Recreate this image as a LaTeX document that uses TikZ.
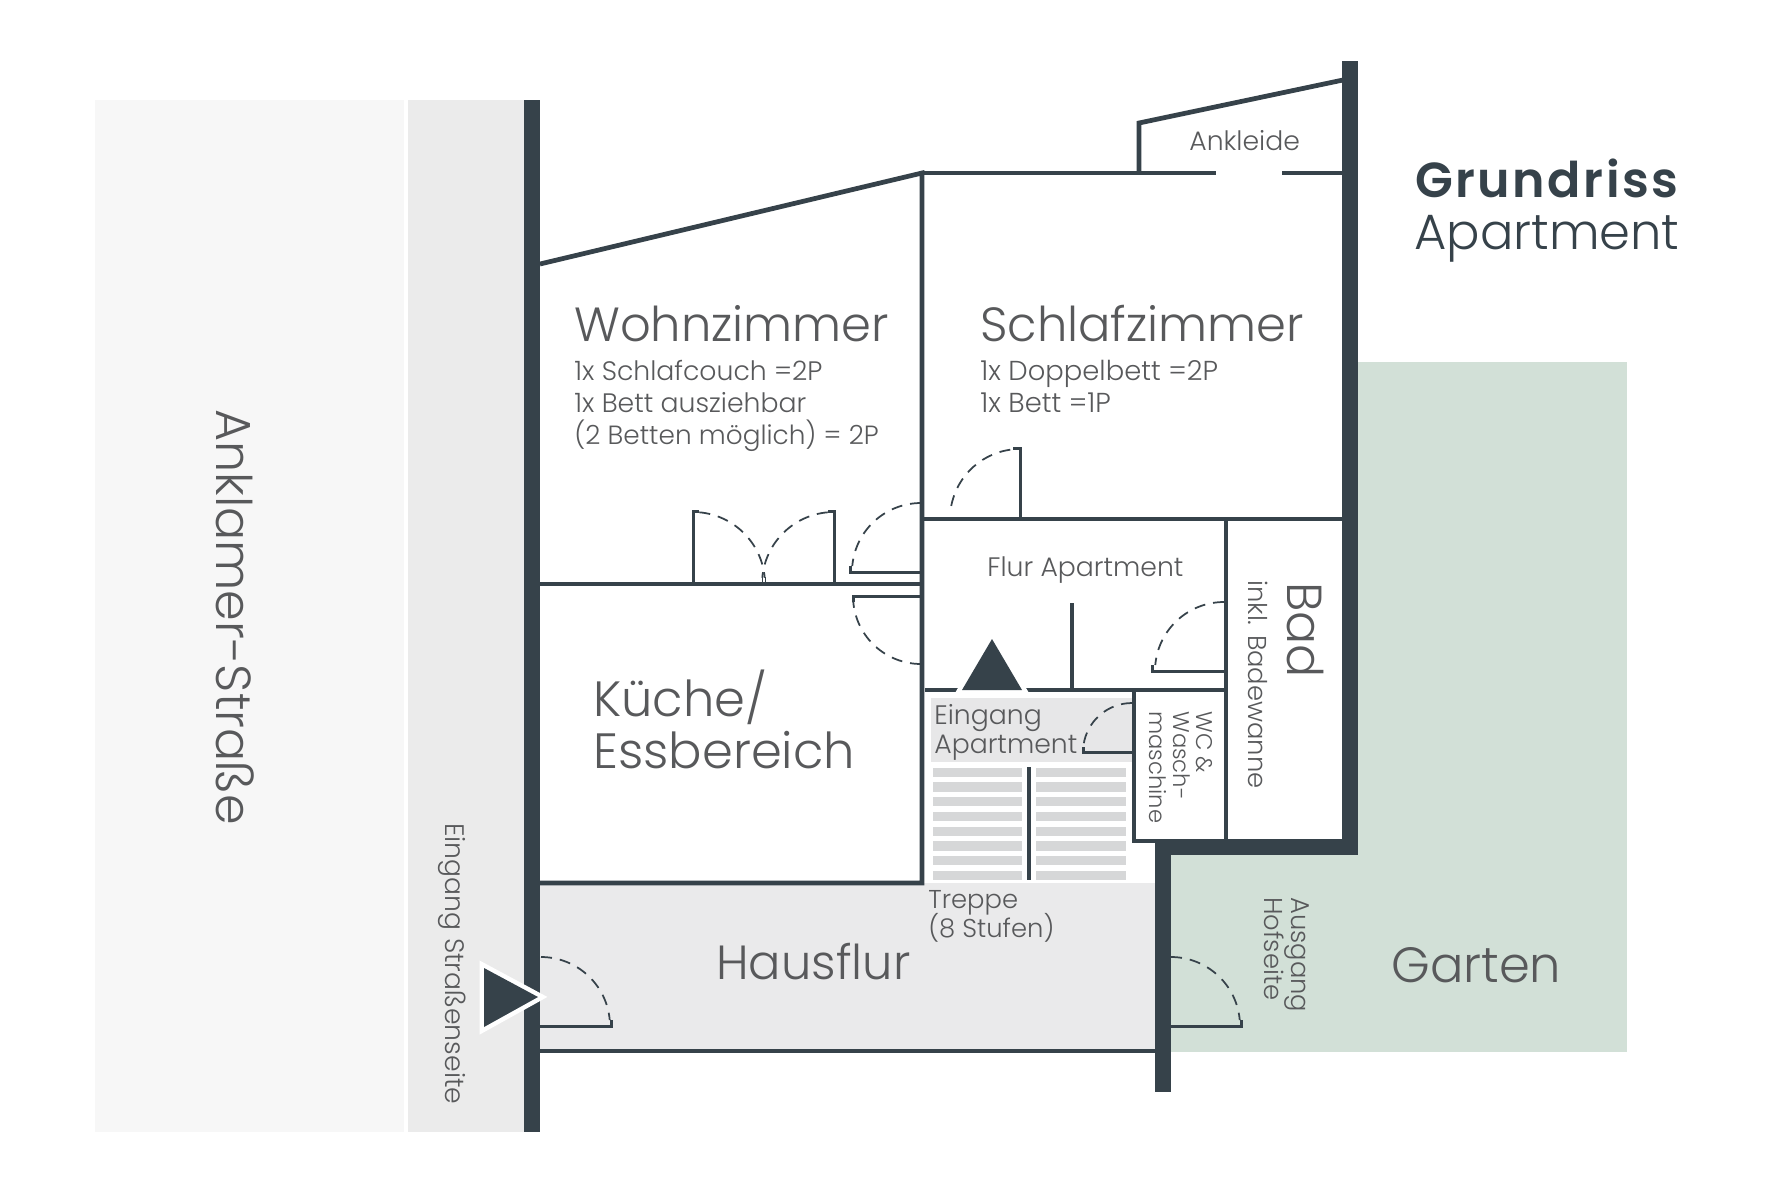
\documentclass[tikz,border=0pt]{standalone}
\usepackage{fontspec}
\setmainfont{Poppins}[UprightFont=* Light,BoldFont=* SemiBold]
\definecolor{wallcol}{HTML}{36424A}
\definecolor{textcol}{HTML}{58595B}
\definecolor{streetA}{HTML}{F7F7F7}
\definecolor{streetB}{HTML}{EBEBEB}
\definecolor{floorcol}{HTML}{EAEAEB}
\definecolor{landcol}{HTML}{E7E7E8}
\definecolor{stepcol}{HTML}{D6D7D8}
\definecolor{gardencol}{HTML}{D2E0D7}
\tikzset{
  wall/.style = {draw=wallcol,line width=0.095cm},
  heavywall/.style = {draw=wallcol,line width=0.32cm},
  leaf/.style = {draw=wallcol,line width=0.06cm},
  swing/.style = {draw=wallcol,line width=0.035cm,dash pattern=on 0.22cm off 0.16cm},
  marker/.style = {fill=wallcol,preaction={draw=white,line width=0.18cm}},
  label/.style = {inner sep=0,anchor=base west,text=textcol},
  turned/.style = {label,rotate=-90},
  huge/.style = {font=\fontsize{27.3}{32}\selectfont},
  hugeB/.style = {font=\fontsize{28.2}{32}\selectfont},
  mid/.style = {font=\fontsize{15.2}{18}\selectfont},
  midB/.style = {font=\fontsize{14.7}{18}\selectfont},
  tiny/.style = {font=\fontsize{12.9}{15}\selectfont}
}

\begin{document}
\begin{tikzpicture}[x=0.02cm,y=-0.02cm]
  \useasboundingbox (0,0) rectangle (1772,1181);
  % grounds
  \fill[streetA] (95,100) rectangle (404,1132);
  \fill[streetB] (408,100) rectangle (525,1132);
  \fill[gardencol] (1358,362) rectangle (1627,856);
  \fill[gardencol] (1171,855) rectangle (1627,1052);
  \fill[floorcol] (540,883) rectangle (1155,1050);
  \fill[landcol] (931,698) rectangle (1132,762);
  % stairs
  \foreach \i in {0,...,7} {
    \fill[stepcol] (933,767.5+14.77*\i) rectangle ++(89,9.3);
    \fill[stepcol] (1036,767.5+14.77*\i) rectangle ++(90,9.3);
  }
  \draw[draw=wallcol,line width=0.08cm] (1029,767) -- (1029,880);
  % walls
  \draw[heavywall] (531.5,100) -- (531.5,1132);
  \draw[heavywall] (1350,61) -- (1350,847) -- (1163,847) -- (1163,1092);
  \draw[wall] (540,264) -- (922,173) -- (922,883) -- (540,883);
  \draw[wall] (922,173) -- (1216,173);
  \draw[wall] (1282,173) -- (1343,173);
  \draw[wall] (1139,173) -- (1139,123) -- (1343,80);
  \draw[wall] (540,584) -- (921,584);
  \draw[wall] (922,519) -- (1343,519);
  \draw[wall] (1226,519) -- (1226,840);
  \draw[wall] (925,690) -- (1226,690);
  \draw[wall] (1072,603) -- (1072,690);
  \draw[wall] (1134,690) -- (1134,841) -- (1156,841);
  \draw[wall] (540,1051) -- (1155,1051);
  % door leaves
  \draw[leaf] (540,1026) -- (611,1026) -- (611,1020);
  \draw[leaf] (1171,1026) -- (1241,1026) -- (1241,1020);
  \draw[leaf] (921,572) -- (850,572) -- (850,566);
  \draw[leaf] (921,596) -- (853,596) -- (853,602);
  \draw[leaf] (699,511) -- (693,511) -- (693,584);
  \draw[leaf] (828,511) -- (834,511) -- (834,584);
  \draw[leaf] (1013,448) -- (1020,448) -- (1020,519);
  \draw[leaf] (1224,671) -- (1152,671) -- (1152,665);
  \draw[leaf] (1132,752) -- (1083,752) -- (1083,747);
  % door swings
  \foreach \cx/\cy/\r/\a/\b in {541/1026/1.38cm/90/5, 1171/1026/1.38cm/90/5,
      921/572/1.38cm/90/175, 921/596/1.36cm/270/185, 693/584/1.44cm/85/5,
      834/584/1.44cm/95/175, 1020/519/1.4cm/98/175, 1224/671/1.38cm/90/175,
      1132/752/0.98cm/90/172}
    \draw[swing] (\cx,\cy) ++(\a:\r) arc (\a:\b:\r);
  \draw[wallcol,line width=0.02cm] (762,577) -- (762,582) (765,577) -- (765,582);
  % entrances
  \fill[marker] (484,968) -- (484,1027) -- (538,997) -- cycle;
  \fill[marker] (992,639) -- (962,690) -- (1022,690) -- cycle;
  % title
  \node[label,text=wallcol,font=\fontsize{28}{34}\selectfont\bfseries\addfontfeature{LetterSpace=5}] (title) at (1415,197) {Grundriss};
  \node[label,text=wallcol,font=\fontsize{28.2}{34}\selectfont] (subtitle) at (1414,249) {Apartment};
  % rooms
  \node[label,huge] (wohn) at (574,341) {Wohnzimmer};
  \node[label,mid] (wohnA) at (574,380) {1x Schlafcouch =2P};
  \node[label,mid] (wohnB) at (574,412) {1x Bett ausziehbar};
  \node[label,font=\fontsize{15}{18}\selectfont] (wohnC) at (574,444) {(2 Betten möglich) = 2P};
  \node[label,huge] (schlaf) at (980,341) {Schlafzimmer};
  \node[label,font=\fontsize{15.6}{18}\selectfont] (schlafA) at (980,380) {1x Doppelbett =2P};
  \node[label,font=\fontsize{15.6}{18}\selectfont] (schlafB) at (980,412) {1x Bett =1P};
  \node[label,hugeB] (kueche) at (593,716) {Küche/};
  \node[label,hugeB] (ess) at (593,768) {Essbereich};
  \node[label,mid] (ankleide) at (1189,150) {Ankleide};
  \node[label,mid] (flur) at (987,576) {Flur Apartment};
  \node[label,huge] (haus) at (716,979) {Hausflur};
  \node[label,hugeB] (garten) at (1391,982) {Garten};
  \node[label,midB] (treppe) at (928,908) {Treppe};
  \node[label,midB] (stufen) at (928,937) {(8 Stufen)};
  \node[label,mid] (eingA) at (934,724) {Eingang};
  \node[label,mid] (eingB) at (934,753) {Apartment};
  % turned labels
  \node[turned,font=\fontsize{28}{32}\selectfont] (strasse) at (216,409) {Anklamer-Straße};
  \node[turned,mid] (strEing) at (445,823) {Eingang Straßenseite};
  \node[turned,font=\fontsize{28}{34}\selectfont] (bad) at (1287,582) {Bad};
  \node[turned,midB] (wanne) at (1248,580) {inkl. Badewanne};
  \node[turned,tiny] (wc) at (1196,711) {WC \&};
  \node[turned,tiny] (wasch) at (1173,711) {Wasch-};
  \node[turned,tiny] (masch) at (1149,711) {maschine};
  \node[turned,midB] (ausg) at (1291,897) {Ausgang};
  \node[turned,midB] (hof) at (1264,897) {Hofseite};
\end{tikzpicture}
\end{document}
